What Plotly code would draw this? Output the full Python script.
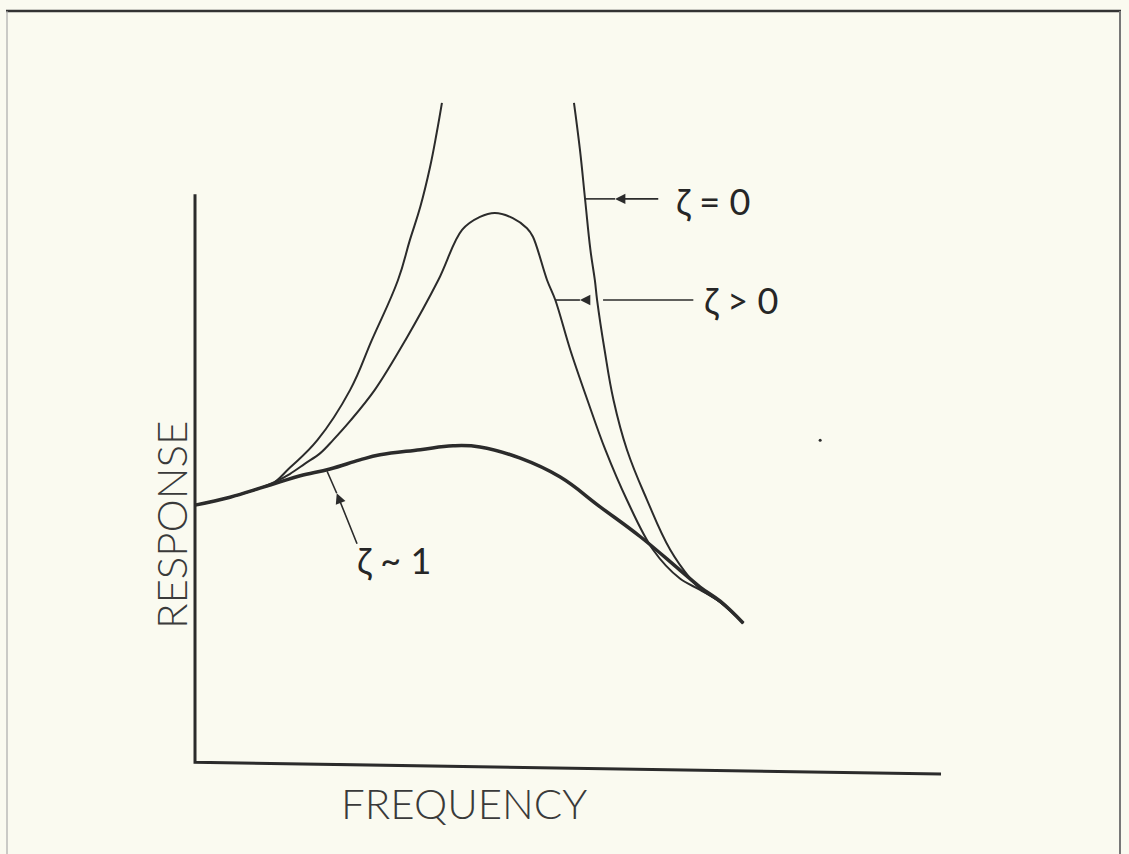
import plotly.graph_objects as go

# ---- data (chart units: frequency / response) ----
# damping zeta ~ 1 (heavily damped)
f_z1 = [0, 0.47, 0.87, 1.14, 1.41, 1.81, 2.21, 2.48, 3.02, 3.46, 3.82, 4.36, 4.89, 5.43, 5.97, 6.50, 6.77, 7.04, 7.35]
r_z1 = [4.60, 4.74, 4.90, 5.01, 5.12, 5.24, 5.40, 5.49, 5.58, 5.65, 5.63, 5.43, 5.10, 4.57, 4.04, 3.45, 3.15, 2.90, 2.51]

# damping zeta > 0
f_zp = [0, 0.47, 0.87, 1.07, 1.27, 1.47, 1.68, 1.85, 2.08, 2.41, 2.82, 3.26, 3.58, 3.82, 4.02, 4.26, 4.45,
        4.53, 4.72, 4.83, 5.03, 5.26, 5.50, 5.79, 6.14, 6.50, 6.77, 7.04, 7.35]
r_zp = [4.60, 4.74, 4.90, 5.01, 5.15, 5.33, 5.52, 5.75, 6.09, 6.64, 7.52, 8.58, 9.47, 9.70, 9.77, 9.68, 9.50,
        9.35, 8.58, 8.23, 7.35, 6.46, 5.58, 4.69, 3.81, 3.30, 3.10, 2.88, 2.51]

# damping zeta = 0 (undamped) - below resonance
f_z0a = [0, 0.47, 0.87, 1.03, 1.27, 1.64, 2.08, 2.37, 2.72, 2.88, 3.02, 3.15, 3.24, 3.31]
r_z0a = [4.60, 4.74, 4.90, 4.97, 5.26, 5.75, 6.64, 7.52, 8.58, 9.29, 9.88, 10.58, 11.19, 11.72]
# zeta = 0 - above resonance
f_z0b = [5.08, 5.16, 5.23, 5.30, 5.36, 5.39, 5.49, 5.61, 5.79, 6.06, 6.37, 6.64, 6.77, 7.04, 7.35]
r_z0b = [11.72, 10.89, 10.00, 9.12, 8.58, 8.23, 7.35, 6.46, 5.58, 4.69, 3.81, 3.30, 3.12, 2.88, 2.51]

# axes of the sketch
axis_f = [0, 0, 10.0]
axis_r = [10.1, 0.05, -0.16]

labels = ["ζ = 0", "ζ > 0", "ζ ~ 1"]
x_title = "FREQUENCY"
y_title = "RESPONSE"

INK = "#2b2b2b"
BG = "#fafaf0"
FONT = "Lato"

fig = go.Figure()

fig.add_trace(go.Scatter(x=axis_f, y=axis_r, mode="lines",
                         line=dict(color=INK, width=3), hoverinfo="skip"))
fig.add_trace(go.Scatter(x=f_z0a, y=r_z0a, mode="lines",
                         line=dict(color=INK, width=2, shape="spline", smoothing=1.2)))
fig.add_trace(go.Scatter(x=f_z0b, y=r_z0b, mode="lines",
                         line=dict(color=INK, width=2, shape="spline", smoothing=1.2)))
fig.add_trace(go.Scatter(x=f_zp, y=r_zp, mode="lines",
                         line=dict(color=INK, width=2, shape="spline", smoothing=1.0)))
fig.add_trace(go.Scatter(x=f_z1, y=r_z1, mode="lines",
                         line=dict(color=INK, width=3.5, shape="spline", smoothing=1.2)))
# small speck
fig.add_trace(go.Scatter(x=[8.38], y=[5.75], mode="markers",
                         marker=dict(color=INK, size=3)))

# leader lines (plain segments)
seg = dict(color=INK, width=1.6)
fig.add_shape(type="line", x0=5.63, y0=10.02, x1=5.23, y1=10.02, line=seg)
fig.add_shape(type="line", x0=6.68, y0=8.23, x1=5.47, y1=8.23, line=seg)
fig.add_shape(type="line", x0=5.16, y0=8.23, x1=4.83, y1=8.23, line=seg)
fig.add_shape(type="line", x0=1.90, y0=4.81, x1=1.77, y1=5.20, line=seg)

# arrowheads (mid-line)
arrows = [
    (5.63, 10.02, 6.23, 10.02),
    (5.16, 8.23, 5.29, 8.23),
    (1.90, 4.81, 2.18, 3.89),
]
for x, y, ax, ay in arrows:
    fig.add_annotation(x=x, y=y, ax=ax, ay=ay, xref="x", yref="y", axref="x", ayref="y",
                       text="", showarrow=True, arrowhead=2, arrowsize=1.3,
                       arrowwidth=1.6, arrowcolor=INK)

# labels
lab_font = dict(family=FONT, size=36, color="#262626")
fig.add_annotation(x=6.42, y=9.98, text=labels[0], showarrow=False, xanchor="left",
                   yanchor="middle", font=lab_font)
fig.add_annotation(x=6.80, y=8.23, text=labels[1], showarrow=False, xanchor="left",
                   yanchor="middle", font=lab_font)
fig.add_annotation(x=2.14, y=3.63, text=labels[2], showarrow=False, xanchor="left",
                   yanchor="middle", font=lab_font)

title_font = dict(family=FONT, size=42, color="#3a3a3a", weight=300)
fig.add_annotation(x=3.61, y=-0.67, text=x_title, showarrow=False,
                   xanchor="center", yanchor="middle", font=title_font)
fig.add_annotation(x=-0.32, y=4.25, text=y_title, showarrow=False, textangle=-90,
                   xanchor="center", yanchor="middle",
                   font=dict(family=FONT, size=42, color="#3a3a3a", weight=300))

# frame of the scanned page
fig.add_shape(type="line", xref="paper", yref="paper", x0=6/1129, x1=1121/1129,
              y0=1 - 11/854, y1=1 - 11/854, line=dict(color="#333333", width=2.5))
fig.add_shape(type="line", xref="paper", yref="paper", x0=1120/1129, x1=1120/1129,
              y0=0, y1=1 - 11/854, line=dict(color="#777777", width=2))
fig.add_shape(type="line", xref="paper", yref="paper", x0=7/1129, x1=7/1129,
              y0=0, y1=1 - 11/854, line=dict(color="#aaaaaa", width=1.2))

fig.update_xaxes(range=[-2.614, 12.520], visible=False, fixedrange=True)
fig.update_yaxes(range=[-1.575, 13.540], visible=False, fixedrange=True)
fig.update_layout(width=1129, height=854, margin=dict(l=0, r=0, t=0, b=0),
                  paper_bgcolor=BG, plot_bgcolor=BG, showlegend=False)

fig.write_html("out.html")
